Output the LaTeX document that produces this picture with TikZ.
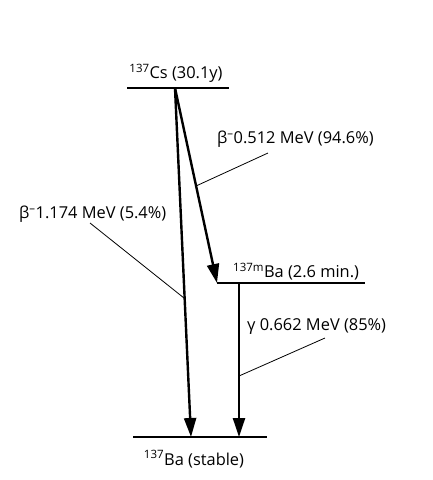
\documentclass[tikz,border=0pt]{standalone}
\usepackage{fontspec}
\setmainfont{Open Sans}
\usetikzlibrary{arrows.meta}
\begin{document}
\begin{tikzpicture}[x=1pt,y=-1pt,
  level/.style={line width=1.6pt},
  decay/.style={line width=2.4pt,-{Triangle[length=19pt,width=12pt]}},
  leader/.style={line width=0.8pt},
  lbl/.style={font=\fontsize{16.4}{18}\selectfont,inner sep=0pt}]
\useasboundingbox (0,0) rectangle (433,480);
% levels
\coordinate (csL) at (127,88); \coordinate (csR) at (229,88);
\coordinate (cs) at (175,88);
\coordinate (bamL) at (217,283); \coordinate (bamR) at (365,283);
\coordinate (bam) at (217,283);
\coordinate (bamg) at (239,283);
\coordinate (baL) at (133,437); \coordinate (baR) at (267,437);
\coordinate (ba1) at (191,437); \coordinate (ba2) at (239,437);
\draw[level] (csL) -- (csR);
\draw[level] (bamL) -- (bamR);
\draw[level] (baL) -- (baR);
% labels
\node[lbl] (csT) at (176,73) {\textsuperscript{137}Cs (30.1y)};
\node[lbl,anchor=west] (bamT) at (233,272) {\textsuperscript{137m}Ba (2.6 min.)};
\node[lbl] (baT) at (194,459) {\textsuperscript{137}Ba (stable)};
\node[lbl,anchor=west] (b1T) at (217,139) {β\textsuperscript{--}0.512 MeV (94.6\%)};
\node[lbl,anchor=west] (b2T) at (19,214) {β\textsuperscript{--}1.174 MeV (5.4\%)};
\node[lbl,anchor=west] (gT) at (247,327) {γ 0.662 MeV (85\%)};
% arrows
\draw[decay] (cs) -- (ba1);
\draw[decay] (cs) -- (bam);
\draw[decay] (bamg) -- (ba2);
% leaders
\coordinate (l1a) at (268,153); \coordinate (l1b) at (196,186);
\coordinate (l2a) at (90,223); \coordinate (l2b) at (184,298);
\coordinate (l3a) at (325,338); \coordinate (l3b) at (239,376);
\draw[leader] (l1a) -- (l1b);
\draw[leader] (l2a) -- (l2b);
\draw[leader] (l3a) -- (l3b);
\end{tikzpicture}
\end{document}
